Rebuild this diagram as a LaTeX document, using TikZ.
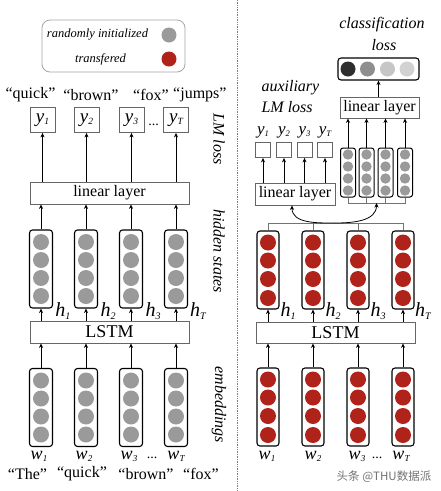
\documentclass[tikz,border=0pt]{standalone}
\usepackage{fontspec}
\setmainfont{Liberation Serif}
\newfontfamily\cjkfont{Noto Sans CJK SC}
\usetikzlibrary{arrows.meta}
\definecolor{tred}{HTML}{B0231A}
\definecolor{cgray}{HTML}{9A9A9A}
\definecolor{odark}{HTML}{2E2E2E}
\definecolor{omid}{HTML}{8E8E8E}
\definecolor{olight}{HTML}{C6C6C6}
\definecolor{olight2}{HTML}{D2D2D2}
\newcommand\lsub[1]{\raisebox{-0.25ex}{\scalebox{0.5}{#1}}}
\begin{document}
\begin{tikzpicture}[x=1pt,y=-1pt,
  arr/.style={-{Stealth[length=4.5pt,width=4pt]}, line width=0.8pt},
  bus/.style={draw=black!55, line width=0.8pt},
  lbox/.style={draw=black!60, line width=0.8pt, fill=white, inner sep=0pt, font=\fontsize{16}{18}\selectfont},
  ybox/.style={draw=black!60, line width=0.8pt, fill=white, inner sep=0pt, minimum size=25pt, font=\fontsize{19}{20}\selectfont\itshape},
  sbox/.style={draw=black!60, line width=0.8pt, fill=white, inner sep=0pt, minimum size=15pt},
  colbig/.style={draw=black, line width=1.1pt, rounded corners=3pt, fill=white, minimum width=23pt, minimum height=78pt, inner sep=0pt},
  colsmall/.style={draw=black, line width=1pt, rounded corners=2.5pt, fill=white, minimum width=15pt, minimum height=49pt, inner sep=0pt},
  word/.style={font=\fontsize{16}{18}\selectfont},
  ital/.style={font=\fontsize{16}{18}\selectfont\itshape},
  hlab/.style={font=\fontsize{20}{22}\selectfont\itshape},
  wlab/.style={font=\fontsize{18}{20}\selectfont\itshape},
]
\useasboundingbox (0,0) rectangle (441,491);
\fill[white] (0,0) rectangle (441,491);

% divider
\draw[black!50, densely dotted, line width=0.7pt] (237,0) -- (237,491);

% ---------------- legend ----------------
\node[draw=black!35, line width=0.8pt, rounded corners=8pt, minimum width=143pt, minimum height=52pt] (legend) at (113.5,46) {};
\node[font=\fontsize{12.5}{14}\selectfont\itshape] (lrand) at (97.5,35) {randomly initialized};
\node[font=\fontsize{12.5}{14}\selectfont\itshape] (ltrans) at (100.5,59) {transfered};
\fill[cgray] (169,35) circle[radius=7.5];
\fill[tred] (169,59) circle[radius=7.5];

% ---------------- left panel ----------------
\node[word] (tq) at (30.5,95) {“quick”};
\node[word] (tb) at (91,95) {“brown”};
\node[word] (tf) at (151,95) {“fox”};
\node[word, anchor=west, inner xsep=0pt] (tj) at (173,95) {“jumps”};

\foreach \x/\n/\s in {42.5/1/1,86.5/2/2,131.5/3/3,176/4/T}
  \node[ybox] (ly\n) at (\x,120) {y\lsub{\s}};
\node[font=\fontsize{14}{16}\selectfont] (ldots1) at (153.5,125) {...};

\node[lbox, minimum width=159pt, minimum height=22pt] (lin1) at (109.5,193) {linear layer};
\node[lbox, minimum width=159pt, minimum height=22pt, font=\fontsize{18}{20}\selectfont] (lstm1) at (109.5,332) {LSTM};

\foreach \x/\n in {41/1,86/2,131/3,176/4}{
  \node[colbig] (lh\n) at (\x,269) {};
  \node[colbig] (le\n) at (\x,407.5) {};
  \foreach \d in {-27,-9,9,27}{
    \fill[cgray] (\x,{269+\d}) circle[radius=8];
    \fill[cgray] (\x,{407.5+\d}) circle[radius=8];
  }
}
\foreach \n in {1,...,4}{
  \draw[arr] (lin1.north -| ly\n) -- (ly\n.south);
  \draw[arr] (lh\n.north) -- (lin1.south -| lh\n);
  \draw[arr] (lstm1.north -| lh\n) -- (lh\n.south);
  \draw[arr] (le\n.north) -- (lstm1.south -| le\n);
}
\node[hlab] (lh1l) at (63,311) {h\lsub{1}};
\node[hlab] (lh2l) at (108,311) {h\lsub{2}};
\node[hlab] (lh3l) at (153,311) {h\lsub{3}};
\node[hlab] (lh4l) at (198,311) {h\lsub{T}};

\node[wlab] (lw1) at (39,456) {w\lsub{1}};
\node[wlab] (lw2) at (84,456) {w\lsub{2}};
\node[wlab] (lw3) at (129,456) {w\lsub{3}};
\node[font=\fontsize{14}{16}\selectfont] (ldots2) at (152,458) {...};
\node[wlab] (lw4) at (176,456) {w\lsub{T}};

\node[word] (bt) at (27.5,474) {“The”};
\node[word] (bq) at (82,474) {“quick”};
\node[word] (bb) at (146,474) {“brown”};
\node[word] (bf) at (201,474) {“fox”};

\node[ital, rotate=-90] (lmloss) at (219,139) {LM loss};
\node[ital, rotate=-90] (hidst) at (219,251) {hidden states};
\node[ital, rotate=-90] (embd) at (219,405) {embeddings};

% ---------------- right panel ----------------
\node[ital] (cls1) at (382,25) {classification};
\node[ital] (cls2) at (384,45) {loss};
\node[draw=black, line width=1.1pt, rounded corners=3pt, minimum width=81pt, minimum height=22pt, inner sep=0pt] (outbox) at (378.5,69) {};
\fill[odark] (348,69) circle[radius=7.5];
\fill[omid] (367.5,69) circle[radius=7.5];
\fill[olight] (387.5,69) circle[radius=7.5];
\fill[olight2] (407,69) circle[radius=7.5];

\node[lbox, minimum width=79pt, minimum height=21pt] (lin3) at (379.5,107.5) {linear layer};
\draw[arr] (lin3.north -| outbox) -- (outbox.south);

\node[ital, anchor=west] (aux1) at (258,88) {auxiliary};
\node[ital, anchor=west] (aux2) at (258,107) {LM loss};

\foreach \x/\n/\s in {263/1/1,284/2/2,304.5/3/3,325/4/T}{
  \node[sbox] (sy\n) at (\x,150) {};
  \node[font=\fontsize{17}{18}\selectfont\itshape] (syl\n) at (\x,132) {y\lsub{\s}};
}
\node[lbox, minimum width=80pt, minimum height=22pt] (lin2) at (295,194) {linear layer};
\foreach \n in {1,...,4}
  \draw[arr] (lin2.north -| sy\n) -- (sy\n.south);

\foreach \x/\n in {348/1,366.5/2,385.5/3,405/4}{
  \node[colsmall] (gc\n) at (\x,172.5) {};
  \foreach \d in {-18,-6,6,18}
    \fill[cgray] (\x,{172.5+\d}) circle[radius=5.2];
  \draw[arr] (gc\n.north) -- (lin3.south -| gc\n);
}
\coordinate (gb) at (376.5,203);
\draw[bus] (gc1.south) -- (gc1.south |- gb) -- (gc4.south |- gb) -- (gc4.south);
\draw[bus] (gc2.south) -- (gc2.south |- gb);
\draw[bus] (gc3.south) -- (gc3.south |- gb);

\node[lbox, minimum width=159pt, minimum height=21pt, font=\fontsize{18}{20}\selectfont] (lstm2) at (335.5,332.5) {LSTM};
\foreach \x/\n in {268/1,313/2,358/3,403/4}{
  \node[colbig, minimum width=22pt] (rh\n) at (\x,270) {};
  \node[colbig, minimum width=22pt] (re\n) at (\x,407) {};
  \foreach \d in {-27.5,-9.5,9,28}{
    \fill[tred] (\x,{270+\d}) circle[radius=8];
    \fill[tred] (\x,{407+\d}) circle[radius=8];
  }
  \draw[arr] (lstm2.north -| rh\n) -- (rh\n.south);
  \draw[arr] (re\n.north) -- (lstm2.south -| re\n);
}
\coordinate (rb) at (335.5,223);
\draw[bus] (rh1.north) -- (rh1.north |- rb) -- (rh4.north |- rb) -- (rh4.north);
\draw[bus] (rh2.north) -- (rh2.north |- rb);
\draw[bus] (rh3.north) -- (rh3.north |- rb);
\draw[arr] (rb) to[out=180,in=-90] ([xshift=-3pt]lin2.south);
\draw[arr] (rb) to[out=0,in=-90] (gb);

\node[hlab] (rh1l) at (288,311) {h\lsub{1}};
\node[hlab] (rh2l) at (333,311) {h\lsub{2}};
\node[hlab] (rh3l) at (378,311) {h\lsub{3}};
\node[hlab] (rh4l) at (423,311) {h\lsub{T}};

\node[wlab] (rw1) at (267,456) {w\lsub{1}};
\node[wlab] (rw2) at (313,456) {w\lsub{2}};
\node[wlab] (rw3) at (357,456) {w\lsub{3}};
\node[font=\fontsize{14}{16}\selectfont] (rdots) at (377,458) {...};
\node[wlab] (rw4) at (401,456) {w\lsub{T}};

\node[font=\fontsize{11.5}{13}\selectfont\cjkfont, text=black!55] (wm) at (384,477) {头条 @THU数据派};
\end{tikzpicture}
\end{document}
